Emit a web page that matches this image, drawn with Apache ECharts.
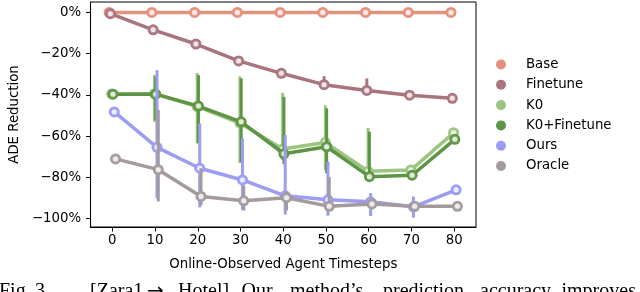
<!DOCTYPE html>
<html>
<head>
<meta charset="utf-8">
<script src="https://cdn.jsdelivr.net/npm/echarts@6/dist/echarts.min.js"></script>
<style>
html,body{margin:0;padding:0;background:#fff;}
#c{width:640px;height:292px;}
</style>
</head>
<body>
<div id="c"></div>
<script>
// ---- data ----
const steps = [0, 10, 20, 30, 40, 50, 60, 70, 80];
const xTickValues = [0, 10, 20, 30, 40, 50, 60, 70, 80];
const yTickValues = [0, -20, -40, -60, -80, -100];
const seriesNames = ['Base', 'Finetune', 'K0', 'K0+Finetune', 'Ours', 'Oracle'];

const base     = [0, 0, 0, 0, 0, 0, 0, 0, 0];
const finetune = [-0.6, -8.4, -15.3, -23.5, -29.5, -35.0, -37.8, -40.1, -41.6];
const k0       = [-39.5, -39.4, -45.6, -53.6, -66.2, -63.0, -77.0, -76.4, -58.3];
const k0ft     = [-39.6, -39.6, -45.4, -53.0, -68.5, -65.1, -79.6, -78.9, -61.5];
const ours     = [-48.2, -65.4, -75.5, -81.2, -88.9, -90.8, -91.8, -94.2, -86.0];
const oracle   = [-71.0, -76.2, -89.2, -91.3, -89.8, -94.0, -92.8, -94.0, -94.0];

// confidence-interval ends (null = no visible bar)
const baseLo     = [null, null, null, null, null, null, null, null, null];
const baseHi     = [null, null, null, null, null, null, null, null, null];
const finetuneLo = [null, null, null, null, null, -37.5, -40.0, null, null];
const finetuneHi = [null, null, null, null, null, -30.9, -32.0, null, null];
const k0Lo       = [null, -53.0, -63.5, -73.0, -71.5, -76.5, -80.0, null, null];
const k0Hi       = [null, -30.3, -29.3, -31.0, -39.0, -45.0, -56.0, null, null];
const k0ftLo     = [null, -52.2, -63.4, -72.5, -73.5, -78.0, -81.5, null, null];
const k0ftHi     = [null, -31.2, -30.4, -32.0, -40.9, -46.5, -57.8, null, null];
const oursLo     = [null, -90.0, -94.5, -95.7, -98.0, -98.5, -98.7, -99.5, null];
const oursHi     = [null, -28.0, -53.8, -61.0, -59.4, -72.3, -87.6, -89.2, null];
const oracleLo   = [null, -91.6, -93.5, -96.0, -96.0, -96.0, -95.0, -96.0, null];
const oracleHi   = [null, -47.3, -75.5, -84.0, -86.8, -79.8, -90.5, -92.0, null];

const values = [base, finetune, k0, k0ft, ours, oracle];
const lows   = [baseLo, finetuneLo, k0Lo, k0ftLo, oursLo, oracleLo];
const highs  = [baseHi, finetuneHi, k0Hi, k0ftHi, oursHi, oracleHi];

// ---- style ----
const colors = ['#E2917A', '#A9747E', '#9CC582', '#5E9545', '#9C9CF3', '#A39A9E'];
const dodge = [-0.75, -0.45, -0.15, 0.15, 0.45, 0.75];
const FONT = 'DejaVu Sans';

const series = [];
seriesNames.forEach((name, i) => {
  const errData = [];
  steps.forEach((s, j) => {
    if (lows[i][j] !== null && highs[i][j] !== null) {
      errData.push([s + dodge[i], lows[i][j], highs[i][j]]);
    }
  });
  series.push({
    name: name + ' CI',
    type: 'custom',
    z: 2 + i * 3,
    silent: true,
    data: errData,
    encode: { x: 0, y: [1, 2] },
    renderItem: function (params, api) {
      const p1 = api.coord([api.value(0), api.value(1)]);
      const p2 = api.coord([api.value(0), api.value(2)]);
      return {
        type: 'line',
        shape: { x1: p1[0], y1: p1[1], x2: p2[0], y2: p2[1] },
        style: { stroke: colors[i], lineWidth: 3 }
      };
    }
  });
  const pts = steps.map((s, j) => [s + dodge[i], values[i][j]]);
  series.push({
    name: name,
    type: 'line',
    z: 3 + i * 3,
    data: pts,
    symbol: 'circle',
    symbolSize: 11,
    showSymbol: true,
    lineStyle: { color: colors[i], width: 3.5 },
    itemStyle: { color: colors[i] },
    emphasis: { disabled: true },
    animation: false
  });
  // faint inner ring of each marker
  series.push({
    name: name + ' ring',
    type: 'scatter',
    z: 4 + i * 3,
    silent: true,
    data: pts,
    symbol: 'emptyCircle',
    symbolSize: 5,
    itemStyle: { color: 'rgba(255,255,255,0.22)', borderColor: 'rgba(255,255,255,0.22)', borderWidth: 1 },
    emphasis: { disabled: true },
    animation: false
  });
});

const chart = echarts.init(document.getElementById('c'), null, { renderer: 'canvas' });

const SERIF = '20px "Liberation Serif"';
const captionWords = [
  ['Fig.', -1, SERIF], ['3.', 35, SERIF], ['[Zara1', 90, SERIF], ['\u2192', 147, '20px "DejaVu Sans"'], ['Hotel]', 178, SERIF],
  ['Our', 241.5, SERIF], ['method\u2019s', 290, SERIF], ['prediction', 383, SERIF], ['accuracy', 480, SERIF], ['improves', 561.5, SERIF]
];

chart.setOption({
  animation: false,
  backgroundColor: '#fff',
  color: colors,
  grid: {
    left: 89, right: 164, top: 2, bottom: 65,
    show: true, borderColor: '#000', borderWidth: 1, backgroundColor: 'transparent'
  },
  xAxis: {
    type: 'value',
    min: -5.1, max: 85.1,
    name: 'Online-Observed Agent Timesteps',
    nameLocation: 'middle',
    nameGap: 31,
    nameTextStyle: { fontFamily: FONT, fontSize: 13.3, color: '#000' },
    axisLine: { show: true, onZero: false, lineStyle: { color: '#000', width: 1 } },
    axisTick: { show: true, length: 4.5, lineStyle: { color: '#000', width: 1 }, customValues: xTickValues },
    axisLabel: { fontFamily: FONT, fontSize: 13.3, color: '#000', margin: 7, customValues: xTickValues },
    splitLine: { show: false }
  },
  yAxis: {
    type: 'value',
    min: -104, max: 5.07,
    name: 'ADE Reduction',
    nameLocation: 'middle',
    nameGap: 62,
    nameRotate: 90,
    nameTextStyle: { fontFamily: FONT, fontSize: 13.3, color: '#000' },
    axisLine: { show: true, onZero: false, lineStyle: { color: '#000', width: 1 } },
    axisTick: { show: true, length: 4.5, lineStyle: { color: '#000', width: 1 }, customValues: yTickValues },
    axisLabel: {
      fontFamily: FONT, fontSize: 13.3, color: '#000', margin: 9.5,
      customValues: yTickValues,
      formatter: v => (v < 0 ? '\u2212' : '') + Math.abs(Math.round(v)) + '%'
    },
    splitLine: { show: false }
  },
  legend: {
    data: seriesNames,
    orient: 'vertical',
    left: 491,
    top: 52.5,
    icon: 'circle',
    itemWidth: 40,
    itemHeight: 10,
    itemGap: 6.3,
    textStyle: { fontFamily: FONT, fontSize: 13.3, color: '#000', lineHeight: 14 },
    selectedMode: false
  },
  graphic: captionWords.map(w => ({
    type: 'text',
    left: w[1],
    top: 281.5,
    silent: true,
    style: { text: w[0], font: w[2], fill: '#000' }
  })),
  series: series
});
</script>
</body>
</html>
